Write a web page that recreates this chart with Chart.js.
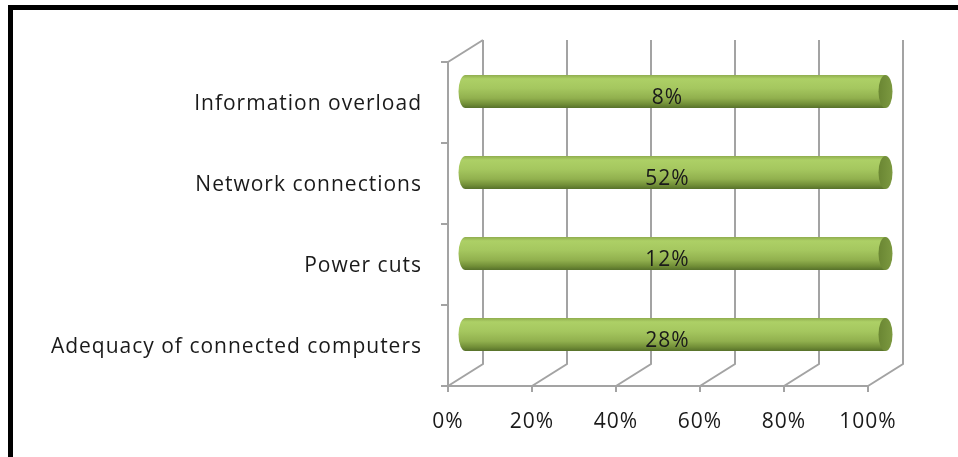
<!DOCTYPE html>
<html>
<head>
<meta charset="utf-8">
<script src="https://cdn.jsdelivr.net/npm/chart.js@4.4.0/dist/chart.umd.min.js"></script>
<style>
  html, body { margin: 0; padding: 0; background: #fff; }
  #wrap { width: 958px; height: 457px; position: relative; }
</style>
</head>
<body>
<div id="wrap"><canvas id="problemsChart"></canvas></div>
<script>
const categories = [
  'Information overload',
  'Network connections',
  'Power cuts',
  'Adequacy of connected computers'
];
const responses = [8, 52, 12, 28];
const xTickValues = [0, 20, 40, 60, 80, 100];

// 100% stacked with a single series: each bar is its share of the row total
const rowTotals = responses.slice();
const shares = responses.map((v, i) => v / rowTotals[i] * 100);

// 3-D depth of the plot box (front plane -> back wall)
const DEPTH_X = 35;
const DEPTH_Y = -22;
const LINE = '#a3a3a3';
const FONT = "'Open Sans', sans-serif";
const TEXT = '#1a1a1a';

const frame = {
  id: 'frame',
  beforeDraw(chart) {
    const c = chart.ctx;
    c.save();
    c.fillStyle = '#fff';
    c.fillRect(0, 0, chart.width, chart.height);
    c.fillStyle = '#000';
    c.fillRect(8, 5, chart.width - 8, 5);
    c.fillRect(8, 5, 5, chart.height - 5);
    c.restore();
    // slightly looser text, closer to the wide Office face
    c.letterSpacing = '1px';
  }
};

// walls, floor and gridlines of the 3-D box
const box = {
  id: 'box',
  beforeDatasetsDraw(chart) {
    const c = chart.ctx;
    const a = chart.chartArea;
    const x = chart.scales.x;
    c.save();
    c.strokeStyle = LINE;
    c.lineWidth = 2;
    c.beginPath();
    // left wall
    c.moveTo(a.left, a.top);
    c.lineTo(a.left, a.bottom);
    c.moveTo(a.left, a.top);
    c.lineTo(a.left + DEPTH_X, a.top + DEPTH_Y);
    // floor front edge
    c.moveTo(a.left, a.bottom);
    c.lineTo(a.right, a.bottom);
    xTickValues.forEach(v => {
      const px = x.getPixelForValue(v);
      // floor diagonal + back wall gridline
      c.moveTo(px, a.bottom);
      c.lineTo(px + DEPTH_X, a.bottom + DEPTH_Y);
      c.lineTo(px + DEPTH_X, a.top + DEPTH_Y);
      // tick mark
      c.moveTo(px, a.bottom);
      c.lineTo(px, a.bottom + 6);
    });
    // category tick marks on the left axis
    for (let i = 0; i <= categories.length; i++) {
      const py = a.top + (a.bottom - a.top) * i / categories.length;
      c.moveTo(a.left - 7, py);
      c.lineTo(a.left, py);
    }
    c.stroke();
    c.restore();
  }
};

// cylinders sit halfway into the box
const cylinders = {
  id: 'cylinders',
  afterDatasetsDraw(chart) {
    const c = chart.ctx;
    const meta = chart.getDatasetMeta(0);
    const dx = DEPTH_X / 2, dy = DEPTH_Y / 2;
    meta.data.forEach((bar, i) => {
      const left = Math.min(bar.base, bar.x) + dx;
      const right = Math.max(bar.base, bar.x) + dx;
      const cy = bar.y + dy;
      const h = bar.height;
      const top = cy - h / 2, bottom = cy + h / 2;
      const rx = 7;

      const g = c.createLinearGradient(0, top, 0, bottom);
      g.addColorStop(0, '#8fac4e');
      g.addColorStop(0.12, '#add066');
      g.addColorStop(0.4, '#a5c75f');
      g.addColorStop(0.7, '#91b04e');
      g.addColorStop(0.88, '#718e37');
      g.addColorStop(1, '#56702a');

      c.save();
      c.beginPath();
      c.moveTo(right, top);
      c.lineTo(left, top);
      c.ellipse(left, cy, rx, h / 2, 0, -Math.PI / 2, Math.PI / 2, true);
      c.lineTo(right, bottom);
      c.closePath();
      c.fillStyle = g;
      c.fill();

      const cg = c.createLinearGradient(right - rx, 0, right + rx, 0);
      cg.addColorStop(0, '#6a8633');
      cg.addColorStop(1, '#7c9940');
      c.beginPath();
      c.ellipse(right, cy, rx, h / 2, 0, 0, Math.PI * 2);
      c.fillStyle = cg;
      c.fill();

      c.fillStyle = TEXT;
      c.font = '21px ' + FONT;
      c.textAlign = 'center';
      c.textBaseline = 'middle';
      c.fillText(responses[i] + '%', (left + right) / 2 - 8, cy + 7);
      c.restore();
    });
  }
};

new Chart(document.getElementById('problemsChart'), {
  type: 'bar',
  data: {
    labels: categories,
    datasets: [{
      data: shares,
      backgroundColor: 'rgba(0,0,0,0)',
      borderWidth: 0,
      categoryPercentage: 1,
      barPercentage: 0.41
    }]
  },
  options: {
    indexAxis: 'y',
    responsive: true,
    maintainAspectRatio: false,
    animation: false,
    layout: { padding: { top: 62, right: 90, bottom: 0, left: 0 } },
    plugins: {
      legend: { display: false },
      tooltip: { enabled: false }
    },
    scales: {
      x: {
        stacked: true,
        min: 0,
        max: 100,
        grid: { display: false, drawTicks: false },
        border: { display: false },
        afterBuildTicks(scale) {
          scale.ticks = xTickValues.map(v => ({ value: v }));
        },
        afterFit(scale) { scale.height = 71; },
        ticks: {
          padding: 23,
          color: TEXT,
          font: { family: FONT, size: 21 },
          callback: v => v + '%'
        }
      },
      y: {
        stacked: true,
        grid: { display: false, drawTicks: false },
        border: { display: false },
        afterFit(scale) { scale.width = 448; },
        ticks: {
          padding: 26,
          labelOffset: 2,
          color: TEXT,
          font: { family: FONT, size: 21 }
        }
      }
    }
  },
  plugins: [frame, box, cylinders]
});
</script>
</body>
</html>
